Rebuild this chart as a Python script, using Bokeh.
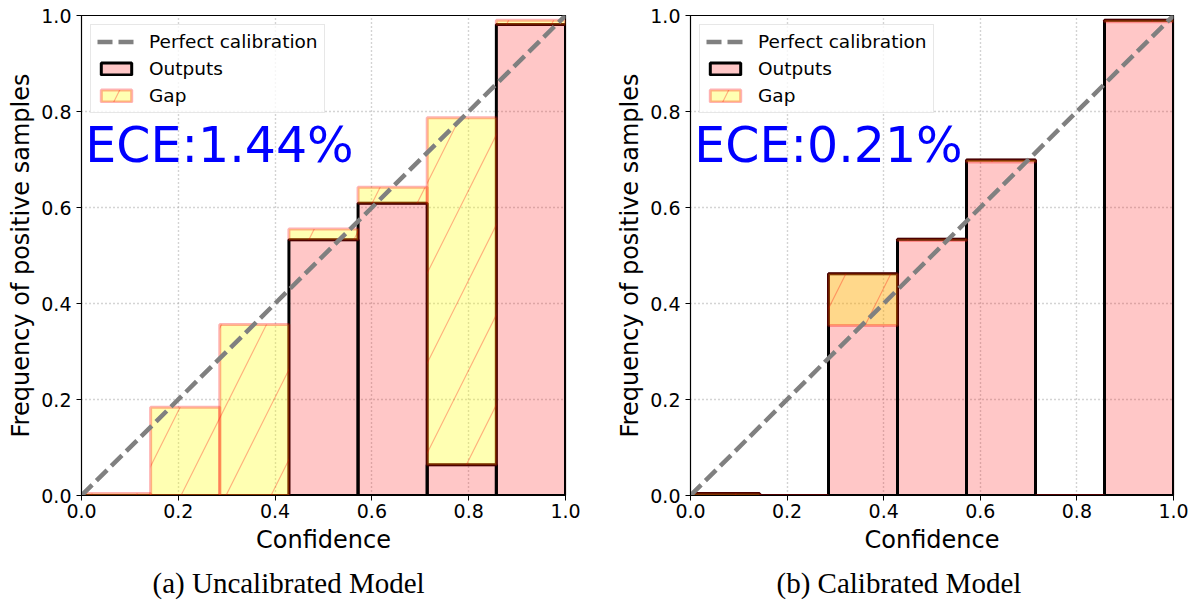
import numpy as np
from bokeh.plotting import figure
from bokeh.layouts import row
from bokeh.models import (Label, Legend, LegendItem, FixedTicker,
                          PrintfTickFormatter, Range1d, Title)
from bokeh.embed import file_html
from bokeh.resources import INLINE

# Reliability diagram data: 7 equal-width confidence bins
n_bins = 7
tick_values = [0.0, 0.2, 0.4, 0.6, 0.8, 1.0]

# (a) uncalibrated model: observed accuracy and mean confidence per bin
uncal_acc = [0.0, 0.0, 0.0, 0.533, 0.609, 0.064, 0.981]
uncal_conf = [0.004, 0.184, 0.356, 0.555, 0.642, 0.787, 0.990]
uncal_ece = "ECE:1.44%"

# (b) calibrated model
cal_acc = [0.004, 0.0, 0.462, 0.534, 0.699, 0.0, 0.990]
cal_conf = [0.0, 0.0, 0.354, 0.531, 0.695, 0.0, 0.987]
cal_ece = "ECE:0.21%"

captions = ["(a) Uncalibrated Model", "(b) Calibrated Model"]

SANS = "DejaVu Sans"
SERIF = "Liberation Serif"


def reliability_plot(acc, conf, ece_text, caption, border_left, border_right,
                     caption_offset):
    acc = np.asarray(acc, dtype=float)
    conf = np.asarray(conf, dtype=float)
    width = 1.0 / n_bins
    centers = (np.arange(n_bins) + 0.5) * width

    p = figure(width=599, height=607, output_backend="svg", toolbar_location=None,
               x_range=Range1d(0, 1), y_range=Range1d(0, 1),
               min_border_left=border_left, min_border_right=border_right,
               min_border_top=15, min_border_bottom=111,
               title=None)

    # sub-figure caption under the x axis
    cap = Title(text=caption, align="left", offset=caption_offset, standoff=17,
                text_font=SERIF, text_font_size="29px", text_font_style="normal",
                text_color="black")
    p.add_layout(cap, "below")

    # grid
    for g in (p.xgrid, p.ygrid):
        g.ticker = FixedTicker(ticks=tick_values)
        g.grid_line_color = "#a8a8a8"
        g.grid_line_dash = "1 3"
        g.grid_line_width = 1.4

    p.outline_line_color = "black"
    p.outline_line_width = 1.2

    for ax in (p.xaxis[0], p.yaxis[0]):
        ax.ticker = FixedTicker(ticks=tick_values)
        ax.formatter = PrintfTickFormatter(format="%.1f")
        ax.minor_tick_line_color = None
        ax.major_tick_in = 0
        ax.major_tick_out = 5
        ax.major_tick_line_color = "black"
        ax.axis_line_color = "black"
        ax.major_label_text_font = SANS
        ax.major_label_text_font_size = "19px"
        ax.major_label_text_color = "black"
        ax.axis_label_text_font = SANS
        ax.axis_label_text_font_size = "24px"
        ax.axis_label_text_font_style = "normal"
        ax.axis_label_text_color = "black"
    p.xaxis.axis_label = "Confidence"
    p.yaxis.axis_label = "Frequency of positive samples"
    p.xaxis.major_label_standoff = 3
    p.xaxis.axis_label_standoff = 5
    p.yaxis.major_label_standoff = 5
    p.yaxis.axis_label_standoff = 3

    # outputs: observed accuracy per bin
    outputs = p.vbar(x=centers, width=width, bottom=0, top=acc,
                     fill_color="red", fill_alpha=0.22,
                     line_color="black", line_width=3)

    # gap between accuracy and confidence
    gap = p.vbar(x=centers, width=width,
                 bottom=np.minimum(acc, conf), top=np.maximum(acc, conf),
                 fill_color="yellow", fill_alpha=0.3,
                 line_color="red", line_alpha=0.3, line_width=3,
                 hatch_pattern="/", hatch_color="red", hatch_alpha=0.3,
                 hatch_scale=90, hatch_weight=1.2)

    diag = p.line(x=[0, 1], y=[0, 1], line_color="gray", line_width=4.5,
                  line_dash="15 6")

    legend = Legend(items=[
        LegendItem(label="Perfect calibration", renderers=[diag]),
        LegendItem(label="Outputs", renderers=[outputs]),
        LegendItem(label="Gap", renderers=[gap]),
    ], location="top_left")
    legend.margin = 9
    legend.padding = 6
    legend.spacing = 6
    legend.glyph_width = 38
    legend.glyph_height = 15
    legend.label_height = 15
    legend.label_standoff = 14
    legend.label_text_font = SANS
    legend.label_text_font_size = "18.5px"
    legend.label_text_color = "black"
    legend.border_line_color = "#d0d0d0"
    legend.border_line_width = 1
    legend.background_fill_alpha = 0.8
    p.add_layout(legend)

    p.add_layout(Label(x=0.008, y=0.729, text=ece_text, text_color="blue",
                       text_font=SANS, text_font_size="49px",
                       text_baseline="alphabetic", text_align="left"))
    return p


left = reliability_plot(uncal_acc, uncal_conf, uncal_ece, captions[0], 81, 34, 71)
right = reliability_plot(cal_acc, cal_conf, cal_ece, captions[1], 91, 25, 86)

layout = row(left, right)
open("out.html", "w").write(file_html(layout, INLINE))
